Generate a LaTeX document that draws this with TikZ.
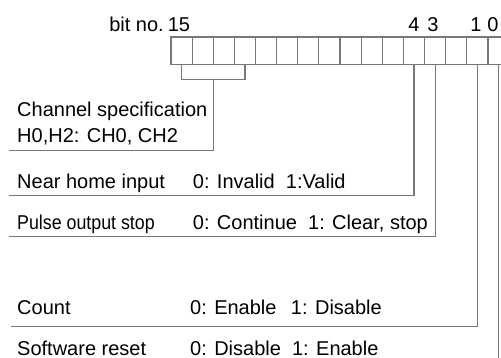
\documentclass[tikz,border=0pt]{standalone}
\usepackage{fontspec}
\setmainfont{Liberation Sans}
\newfontfamily\condfont{Liberation Sans}[FakeStretch=0.89]
\usetikzlibrary{calc}
\definecolor{linegray}{RGB}{120,120,120}
\begin{document}
\begin{tikzpicture}[x=1pt,y=-1pt,
  conn/.style={draw=linegray,line width=1.2pt},
  cell/.style={draw=linegray,line width=1.1pt,minimum width=21.13pt,minimum height=27.3pt,inner sep=0pt,outer sep=0pt},
  lbl/.style={anchor=base west,inner sep=0pt,font=\fontsize{20}{22}\selectfont},
  bitlbl/.style={anchor=base,inner sep=0pt,font=\fontsize{20}{22}\selectfont}]
\useasboundingbox (0,0) rectangle (501,358);
\clip (0,0) rectangle (501,358);
% register cells (bit 15 on the left)
\foreach \i in {0,...,15} {
  \pgfmathtruncatemacro\b{15-\i}
  \node[cell] (c\b) at ({171+21.13*(\i+0.5)},50.65) {};
}
% bit numbers
\node[bitlbl,anchor=base east] (bitno) at (164,32) {bit no.};
\node[bitlbl] (n15) at (179,32) {15};
\node[bitlbl] (n4) at (414,32) {4};
\node[bitlbl] (n3) at (433,32) {3};
\node[bitlbl] (n1) at (476,32) {1};
\node[bitlbl] (n0) at (493,32) {0};
% labels
\node[lbl] (ch1) at (17,117) {Channel specification};
\node[lbl] (ch2) at (17,143) {H0,H2: CH0, CH2};
\node[lbl] (nh) at (17,189) {Near home input};
\node[lbl] (nhv) at (192.7,189) {0: Invalid\ \ 1:Valid};
\node[lbl] (ps) at (17,230) {\condfont Pulse output stop};
\node[lbl] (psv) at (192.7,230) {0: Continue\ \ 1: Clear, stop};
\node[lbl] (ct) at (17,315) {Count};
\node[lbl] (ctv) at (190,315) {0: Enable\ \ \,1: Disable};
\node[lbl] (sr) at (17,355) {Software reset};
\node[lbl] (srv) at (190,355) {0: Disable\ \ 1: Enable};
% connector end points
\coordinate (chEnd) at (9,150.7);
\coordinate (nhEnd) at (9,195.5);
\coordinate (psEnd) at (9,236.7);
\coordinate (ctEnd) at (11,326.7);
\coordinate (srEnd) at (11,372);
% bracket for bits 15..12
\draw[conn] (c15.south) -- ++(0,15) -| (c12.south);
\coordinate (brm) at ($(c15.south)!0.5!(c12.south)+(0,15)$);
\draw[conn] (brm) |- (chEnd);
\draw[conn] (c4.south) |- (nhEnd);
\draw[conn] (c3.south) |- (psEnd);
\draw[conn] (c1.south) |- (ctEnd);
\draw[conn] (c0.south) |- (srEnd);
\end{tikzpicture}
\end{document}
